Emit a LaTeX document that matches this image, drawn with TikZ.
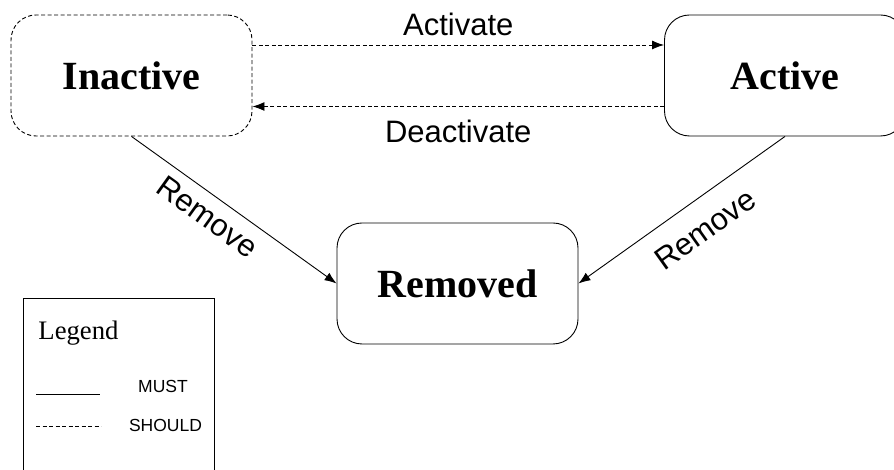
\documentclass[tikz,border=0pt]{standalone}
\usepackage{fontspec}
\setmainfont{Liberation Serif}
\newfontfamily\arialfont{Liberation Sans}
\usetikzlibrary{arrows.meta,positioning}

\tikzset{
  state/.style={draw, rounded corners=25pt, minimum width=241pt, minimum height=121pt, inner sep=0pt, font=\fontsize{40}{40}\selectfont\bfseries},
  should/.style={dash pattern=on 4pt off 2.5pt},
  trans/.style={inner sep=0pt, font=\arialfont\fontsize{31}{31}\selectfont},
  key/.style={inner sep=0pt, font=\arialfont\fontsize{17.5}{17.5}\selectfont},
}

\begin{document}
\begin{tikzpicture}[x=1pt, y=1pt, line width=0.9pt, >={Latex[length=12pt,width=9pt]}]
\useasboundingbox (0,0) rectangle (894,470);
\clip (0,0) rectangle (894,470);

\node [state, should] (Inactive) at (131.5,394.5) {Inactive};
\node [state] (Active) at (785,394.5) {Active};
\node [state] (Removed) at (457.5,186.5) {Removed};

\draw [should, ->] ([yshift=30.5pt]Inactive.east) -- node [trans, above=8.5pt] {Activate} ([yshift=30.5pt]Active.west);
\draw [should, ->] ([yshift=-31pt]Active.west) -- node [trans, below=13.5pt] {Deactivate} ([yshift=-31pt]Inactive.east);

\draw [->] (Inactive.south) -- node [trans, sloped, below=10pt, pos=0.43] {Remove} (Removed.west);
\draw [->] (Active.south) -- node [trans, sloped, below=18.5pt, pos=0.47] {Remove} (Removed.east);

% legend
\draw (23,172) rectangle (214,-5);
\node (legendtitle) [anchor=base west, inner sep=0pt, font=\fontsize{26.7}{26.7}\selectfont] at (38,130) {Legend};
\coordinate (mustA) at (36,76);
\coordinate (mustB) at (100,76);
\coordinate (shouldA) at (36,44);
\coordinate (shouldB) at (101,44);
\draw (mustA) -- (mustB);
\draw [should, line width=0.8pt] (shouldA) -- (shouldB);
\node (must) [key, anchor=base] at (163,77) {MUST};
\node (shouldkey) [key, anchor=base] at (165.5,38) {SHOULD};
\end{tikzpicture}
\end{document}
